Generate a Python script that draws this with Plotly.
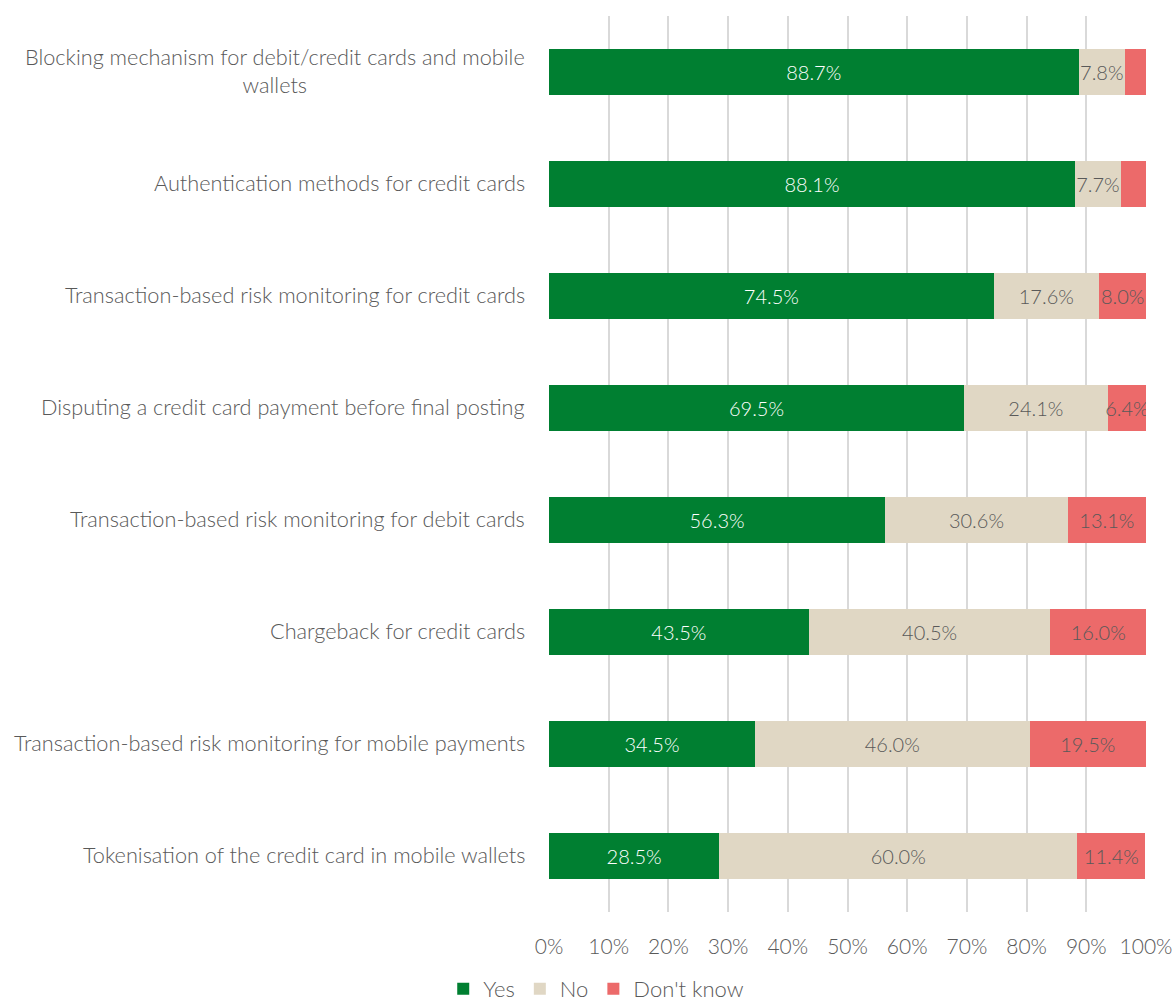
import plotly.graph_objects as go

categories = [
    "Blocking mechanism for debit/credit cards and mobile<br>wallets",
    "Authentication methods for credit cards",
    "Transaction-based risk monitoring for credit cards",
    "Disputing a credit card payment before final posting",
    "Transaction-based risk monitoring for debit cards",
    "Chargeback for credit cards",
    "Transaction-based risk monitoring for mobile payments",
    "Tokenisation of the credit card in mobile wallets",
]
yes_vals = [88.7, 88.1, 74.5, 69.5, 56.3, 43.5, 34.5, 28.5]
no_vals = [7.8, 7.7, 17.6, 24.1, 30.6, 40.5, 46.0, 60.0]
dk_vals = [3.5, 4.2, 8.0, 6.4, 13.1, 16.0, 19.5, 11.4]
# rows whose "Don't know" share is too thin for a label
dk_labelled = [False, False, True, True, True, True, True, True]

FONT = "Lato"
WEIGHT = 300
GREY = "#595959"
GREEN = "#007F31"
BEIGE = "#E0D7C4"
RED = "#EC6A6A"


def font(size, color=GREY):
    return dict(family=FONT, size=size, color=color, weight=WEIGHT)


fig = go.Figure()

bar_style = dict(
    orientation="h", textposition="inside", insidetextanchor="middle",
    constraintext="none", textangle=0,
)

fig.add_trace(go.Bar(
    name="Yes", y=categories, x=yes_vals,
    marker=dict(color=GREEN, line=dict(width=0)),
    text=[f"{v:.1f}%" for v in yes_vals],
    textfont=font(20, "white"), **bar_style,
))
fig.add_trace(go.Bar(
    name="No", y=categories, x=no_vals,
    marker=dict(color=BEIGE, line=dict(width=0)),
    text=[f"{v:.1f}%" for v in no_vals],
    textfont=font(20), **bar_style,
))
fig.add_trace(go.Bar(
    name="Don't know", y=categories, x=dk_vals,
    marker=dict(color=RED, line=dict(width=0)),
    text=[f"{v:.1f}%" if show else "" for v, show in zip(dk_vals, dk_labelled)],
    textfont=font(20), **bar_style,
))

# category labels, centred line by line and right-aligned to the axis
for cat in categories:
    fig.add_annotation(
        x=0, xref="paper", y=cat, yref="y",
        text=cat, showarrow=False, xanchor="right", yanchor="middle",
        xshift=-22, yshift=1, align="center", font=font(21.7),
    )

fig.update_layout(
    barmode="stack",
    bargap=0.59,
    width=1176, height=1006,
    margin=dict(l=549, r=30, t=16, b=94),
    paper_bgcolor="white", plot_bgcolor="white",
    font=font(20),
    showlegend=True,
    legend=dict(
        orientation="h", traceorder="normal",
        xref="container", x=0.507, xanchor="center",
        yref="container", y=0.017, yanchor="middle",
        font=font(22), tracegroupgap=0,
    ),
    xaxis=dict(
        range=[0, 100], dtick=10, ticksuffix="%",
        showgrid=True, gridcolor="#D9D9D9", gridwidth=2,
        zeroline=False, showline=False, automargin=False,
        ticks="", ticklabelstandoff=20, tickfont=font(21),
    ),
    yaxis=dict(
        autorange="reversed", showticklabels=False, automargin=False,
        showgrid=False, zeroline=False, showline=False, ticks="",
    ),
)

fig.write_html("out.html")
